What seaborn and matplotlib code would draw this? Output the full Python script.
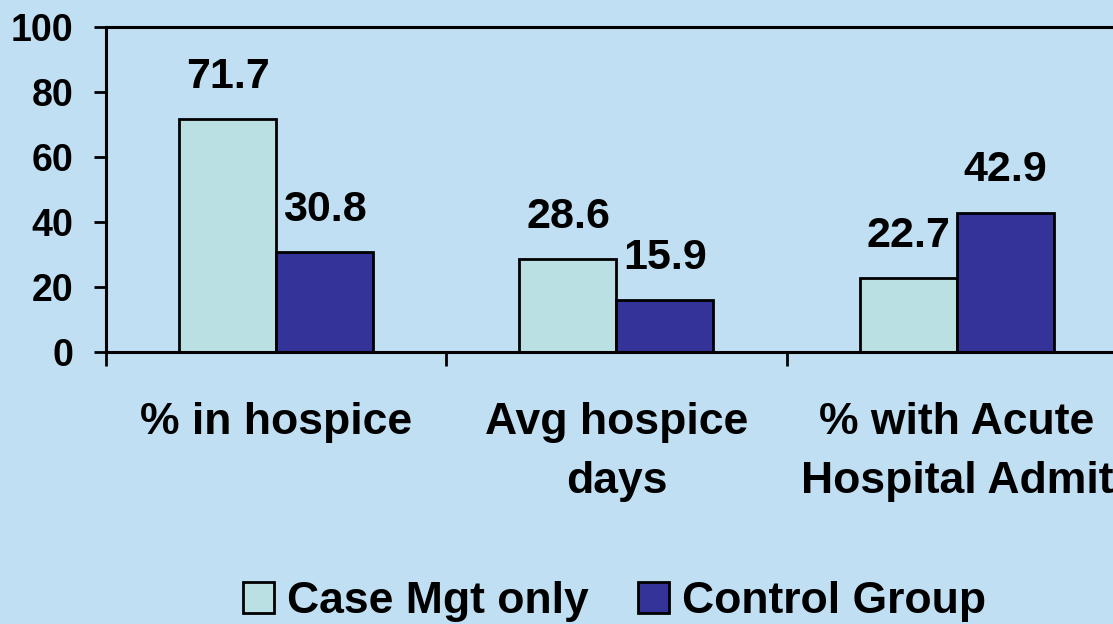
import numpy as np
import pandas as pd
import seaborn as sns
import matplotlib.pyplot as plt
from matplotlib.patches import Patch

# hospice outcomes, case management vs control
categories = ["% in hospice", "Avg hospice\ndays", "% with Acute\nHospital Admit"]
groups = ["Case Mgt only", "Control Group"]
case_mgt = [71.7, 28.6, 22.7]
control = [30.8, 15.9, 42.9]
yticks = [0, 20, 40, 60, 80, 100]

bg = "#C0DFF2"
colors = ["#BBE0E3", "#333399"]

sns.set_style("ticks")
plt.rcParams["font.family"] = ["Liberation Sans", "DejaVu Sans"]
plt.rcParams["font.weight"] = "bold"
plt.rcParams["text.color"] = "black"
plt.rcParams["xtick.color"] = "black"
plt.rcParams["ytick.color"] = "black"
plt.rcParams["axes.edgecolor"] = "black"

df = pd.DataFrame({
    "measure": categories * 2,
    "value": case_mgt + control,
    "group": [groups[0]] * 3 + [groups[1]] * 3,
})

fig = plt.figure(figsize=(11.13, 6.24), dpi=100, facecolor=bg)
ax = fig.add_axes([0.0952, 0.4359, 0.9173, 0.5208])
ax.set_facecolor(bg)

sns.barplot(
    data=df, x="measure", y="value", hue="group", order=categories,
    hue_order=groups, palette=colors, width=0.57, edgecolor="black",
    linewidth=2, saturation=1, legend=False, ax=ax,
)

for cont in ax.containers:
    ax.bar_label(cont, fmt="%.1f", padding=16, fontsize=31,
                 fontweight="bold", color="black")

ax.set_xlim(-0.5, 2.5)
ax.set_ylim(0, 100)
ax.set_xlabel("")
ax.set_ylabel("")

for s in ax.spines.values():
    s.set_visible(True)
    s.set_linewidth(2.2)
    s.set_color("black")

ax.set_yticks(yticks)
ax.set_yticklabels([str(t) for t in yticks], fontsize=27, fontweight="bold")
ax.tick_params(axis="y", length=8.6, width=2, pad=15, direction="out",
               colors="black")

# category boundaries get the tick marks, labels sit at the centres
ax.set_xticks([-0.5, 0.5, 1.5, 2.5])
ax.set_xticklabels([])
ax.tick_params(axis="x", which="major", length=10, width=2, direction="out",
               colors="black")
ax.set_xticks([0, 1, 2], minor=True)
ax.set_xticklabels(categories, minor=True, fontsize=32, fontweight="bold",
                   linespacing=1.55)
ax.tick_params(axis="x", which="minor", length=0, pad=36, colors="black")

handles = [Patch(facecolor=c, edgecolor="black", linewidth=2) for c in colors]
fig.legend(handles, groups, loc="center", bbox_to_anchor=(0.552, 0.036),
           ncol=2, frameon=False, handlelength=0.7,
           handleheight=0.7, handletextpad=0.3, columnspacing=1.1,
           prop={"weight": "bold", "size": 32})

fig.savefig("out.png", dpi=100, facecolor=bg)
